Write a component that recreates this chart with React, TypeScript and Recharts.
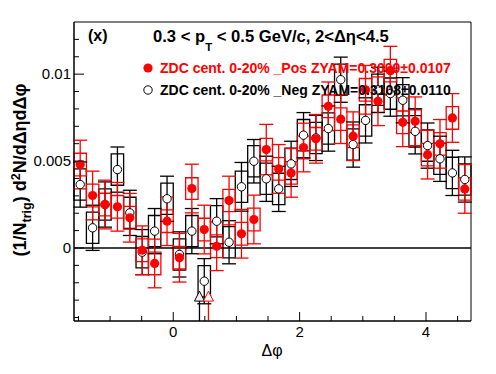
import {
  ComposedChart,
  ErrorBar,
  ReferenceArea,
  ReferenceLine,
  Scatter,
  XAxis,
  YAxis,
} from "recharts";

const PI = Math.PI;
const X_MIN = -PI / 2;
const X_MAX = (3 * PI) / 2;
const Y_MIN = -0.0042;
const Y_MAX = 0.013;

// 32 bins in delta-phi
const N_BINS = 32;
const BIN_W = (X_MAX - X_MIN) / N_BINS;
const binCenters = Array.from({ length: N_BINS }, (_, i) => X_MIN + (i + 0.5) * BIN_W);

// ZDC cent. 0-20% _Pos (red, filled)
const posY = [
  0.0048, 0.00302, 0.0025, 0.00237, 0.00174, -0.00013, -0.00089, 0.00154,
  -0.00056, 0.00342, 0.00106, 0.0001, 0.00273, 0.00082, 0.00164, 0.00566,
  0.00455, 0.00432, 0.00578, 0.00628, 0.00815, 0.00741, 0.00643, 0.0091,
  0.00844, 0.0102, 0.00723, 0.00729, 0.00537, 0.00599, 0.00748, 0.0034,
];
const posStat = [
  0.0014, 0.0014, 0.0014, 0.0014, 0.0014, 0.0014, 0.0014, 0.0014,
  0.0014, 0.0014, 0.0014, 0.0014, 0.0014, 0.0014, 0.0014, 0.00145,
  0.0014, 0.0014, 0.0014, 0.0014, 0.0014, 0.0014, 0.0014, 0.0014,
  0.0014, 0.0014, 0.0014, 0.0014, 0.0014, 0.0014, 0.0014, 0.0014,
];
const posSys = [
  0.00065, 0.00065, 0.00065, 0.00065, 0.00065, 0.00065, 0.00065, 0.00065,
  0.00065, 0.00062, 0.00065, 0.00065, 0.00064, 0.00065, 0.00065, 0.00065,
  0.00065, 0.00065, 0.00065, 0.00065, 0.00065, 0.00065, 0.00065, 0.00065,
  0.00065, 0.00065, 0.00065, 0.00065, 0.00065, 0.00065, 0.00065, 0.00065,
];

// ZDC cent. 0-20% _Neg (black, open)
const negY = [
  0.00365, 0.00116, 0.0025, 0.00451, 0.00202, -0.00024, 0.00097, 0.00283,
  -0.00037, 0.00097, -0.00191, 0.00154, 0.00033, 0.00352, 0.00499, 0.00398,
  0.0034, 0.00484, 0.00649, 0.00633, 0.00687, 0.00968, 0.00595, 0.00734,
  0.0091, 0.00888, 0.0085, 0.00671, 0.00589, 0.00513, 0.00432, 0.00394,
];
const negStat = [
  0.0013, 0.0013, 0.0013, 0.0013, 0.0013, 0.0013, 0.0013, 0.0013,
  0.0013, 0.0013, 0.0013, 0.0013, 0.00124, 0.0014, 0.00125, 0.0013,
  0.0013, 0.0013, 0.0013, 0.0013, 0.0013, 0.0013, 0.0013, 0.0013,
  0.0013, 0.0013, 0.0013, 0.0013, 0.0013, 0.0013, 0.0013, 0.0013,
];
const negSys = [
  0.0009, 0.0009, 0.0009, 0.0009, 0.0009, 0.0009, 0.0009, 0.0009,
  0.0009, 0.0009, 0.0009, 0.0009, 0.0009, 0.0009, 0.0009, 0.0009,
  0.0009, 0.0009, 0.0009, 0.0009, 0.0009, 0.0009, 0.0009, 0.0009,
  0.0009, 0.0009, 0.0009, 0.0009, 0.0009, 0.0009, 0.0009, 0.0009,
];

// ZYAM minimum markers (arrows at the bottom)
const negArrow = { x: 0.415, tip: -0.00248, base: -0.00306 };
const posArrow = { x: 0.557, tip: -0.00248, base: -0.00306 };

const xTicks = [-1.5, -1, -0.5, 0, 0.5, 1, 1.5, 2, 2.5, 3, 3.5, 4, 4.5];
const xLabels: Record<string, string> = { "0": "0", "2": "2", "4": "4" };
const yTicks = [
  -0.004, -0.003, -0.002, -0.001, 0, 0.001, 0.002, 0.003, 0.004, 0.005,
  0.006, 0.007, 0.008, 0.009, 0.01, 0.011, 0.012,
];
const yLabels: Record<string, string> = { "0": "0", "0.005": "0.005", "0.01": "0.01" };

const FONT = "'Liberation Sans', Arial, Helvetica, sans-serif";
const RED = "#ff0000";

const posData = binCenters.map((x, i) => ({ x, y: posY[i], err: posStat[i] }));
const negData = binCenters.map((x, i) => ({ x, y: negY[i], err: negStat[i] }));

function XTick(props: any) {
  const { x, y, payload } = props;
  const label = xLabels[String(payload.value)];
  const len = label ? 9 : 5;
  return (
    <g>
      <line x1={x} y1={y} x2={x} y2={y - len} stroke="#000" />
      {label && (
        <text x={x} y={y + 16} textAnchor="middle" fontSize={15} fontFamily={FONT} fill="#000">
          {label}
        </text>
      )}
    </g>
  );
}

function YTick(props: any) {
  const { x, y, payload } = props;
  const label = yLabels[String(payload.value)];
  const len = label ? 10 : 5;
  return (
    <g>
      <line x1={x} y1={y} x2={x + len} y2={y} stroke="#000" />
      {label && (
        <text x={x - 3} y={y + 5} textAnchor="end" fontSize={15} fontFamily={FONT} fill="#000">
          {label}
        </text>
      )}
    </g>
  );
}

const redDot = (p: any) => <circle cx={p.cx} cy={p.cy} r={4.6} fill={RED} />;
const openCircle = (p: any) => (
  <circle cx={p.cx} cy={p.cy} r={4.2} fill="#fff" stroke="#000" strokeWidth={1} />
);
const arrowHead = (color: string, fill: string) => (p: any) => (
  <polygon
    points={`${p.cx},${p.cy} ${p.cx - 5},${p.cy + 10} ${p.cx + 5},${p.cy + 10}`}
    fill={fill}
    stroke={color}
    strokeWidth={1}
  />
);

export default function App() {
  return (
    <div style={{ position: "absolute", left: 0, top: 0, width: 496, height: 374, background: "#fff" }}>
      <ComposedChart
        width={496}
        height={374}
        margin={{ top: 22, right: 25, bottom: 0, left: 0 }}
      >
        <XAxis
          type="number"
          dataKey="x"
          domain={[X_MIN, X_MAX]}
          allowDataOverflow
          ticks={xTicks}
          interval={0}
          tick={<XTick />}
          tickLine={false}
          tickSize={0}
          tickMargin={0}
          axisLine={{ stroke: "#000" }}
          height={53}
        />
        <YAxis
          type="number"
          dataKey="y"
          domain={[Y_MIN, Y_MAX]}
          allowDataOverflow
          ticks={yTicks}
          interval={0}
          tick={<YTick />}
          tickLine={false}
          tickSize={0}
          tickMargin={0}
          axisLine={{ stroke: "#000" }}
          width={74}
        />
        <ReferenceArea x1={X_MIN} x2={X_MAX} y1={Y_MIN} y2={Y_MAX} fill="none" stroke="#000" strokeWidth={1} />
        <ReferenceLine y={0} stroke="#000" strokeWidth={1.5} />

        {binCenters.map((x, i) => (
          <ReferenceArea
            key={`nb${i}`}
            x1={x - BIN_W / 2}
            x2={x + BIN_W / 2}
            y1={negY[i] - negSys[i]}
            y2={negY[i] + negSys[i]}
            fill="none"
            stroke="#000"
            strokeWidth={1.3}
          />
        ))}
        {binCenters.map((x, i) => (
          <ReferenceArea
            key={`pb${i}`}
            x1={x - BIN_W / 2}
            x2={x + BIN_W / 2}
            y1={posY[i] - posSys[i]}
            y2={posY[i] + posSys[i]}
            fill="none"
            stroke={RED}
            strokeWidth={1.3}
          />
        ))}

        <ReferenceLine
          segment={[{ x: negArrow.x, y: Y_MIN }, { x: negArrow.x, y: negArrow.base }]}
          stroke="#000"
          strokeWidth={1.3}
        />
        <ReferenceLine
          segment={[{ x: posArrow.x, y: Y_MIN }, { x: posArrow.x, y: posArrow.base }]}
          stroke={RED}
          strokeWidth={1.3}
        />

        <Scatter data={negData} dataKey="y" shape={openCircle} isAnimationActive={false}>
          <ErrorBar dataKey="err" direction="y" width={7} stroke="#000" strokeWidth={1.3} />
        </Scatter>
        <Scatter data={posData} dataKey="y" shape={redDot} isAnimationActive={false}>
          <ErrorBar dataKey="err" direction="y" width={7} stroke={RED} strokeWidth={1.3} />
        </Scatter>
        <Scatter
          data={[{ x: negArrow.x, y: negArrow.tip }]}
          dataKey="y"
          shape={arrowHead("#000", "#eeeeee")}
          isAnimationActive={false}
        />
        <Scatter
          data={[{ x: posArrow.x, y: posArrow.tip }]}
          dataKey="y"
          shape={arrowHead(RED, "#fff")}
          isAnimationActive={false}
        />
      </ComposedChart>

      <svg
        width={496}
        height={374}
        style={{ position: "absolute", left: 0, top: 0, pointerEvents: "none" }}
        fontFamily={FONT}
      >
        <text x={88} y={41} fontSize={16} fontWeight="bold">(x)</text>
        <text x={153} y={42} fontSize={16.6} fontWeight="bold">
          0.3 &lt; p
          <tspan fontSize={11.5} dy={9}>T</tspan>
          <tspan dy={-9}> &lt; 0.5 GeV/c, 2&lt;Δη&lt;4.5</tspan>
        </text>

        <circle cx={148} cy={68} r={4.6} fill={RED} />
        <text x={160} y={73} fontSize={14} fontWeight="bold" fill={RED}>
          ZDC cent. 0-20% _Pos ZYAM=0.3009±0.0107
        </text>
        <circle cx={148} cy={90} r={4.2} fill="#fff" stroke="#000" />
        <text x={160} y={95} fontSize={14} fontWeight="bold" fill="#000">
          ZDC cent. 0-20% _Neg ZYAM=0.3108±0.0110
        </text>

        <text transform="rotate(-90)" x={-170} y={26} textAnchor="middle" fontSize={18} fontWeight="bold">
          (1/N
          <tspan fontSize={12.5} dy={5}>trig</tspan>
          <tspan dy={-5}>) d</tspan>
          <tspan fontSize={12.5} dy={-6}>2</tspan>
          <tspan dy={6}>N/dΔηdΔφ</tspan>
        </text>
        <text x={272} y={356} textAnchor="middle" fontSize={16}>Δφ</text>
      </svg>
    </div>
  );
}
